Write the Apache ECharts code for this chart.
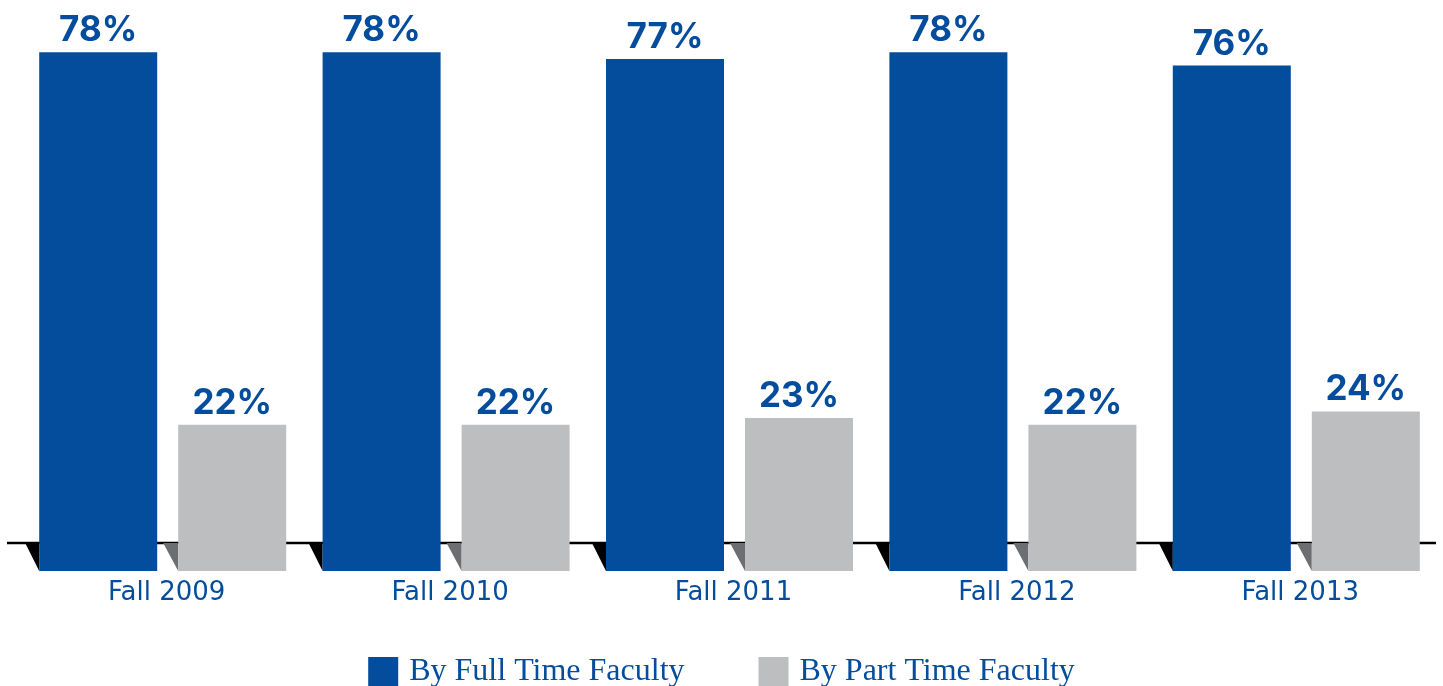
<!DOCTYPE html>
<html>
<head>
<meta charset="utf-8">
<script src="https://cdn.jsdelivr.net/npm/echarts@6/dist/echarts.min.js"></script>
<style>
html, body { margin: 0; padding: 0; background: #fff; }
#chart { width: 1443px; height: 686px; }
</style>
</head>
<body>
<div id="chart"></div>
<script>
var dom = document.getElementById("chart");
var myChart = echarts.init(dom);

var categories = ['Fall 2009', 'Fall 2010', 'Fall 2011', 'Fall 2012', 'Fall 2013'];
var fullTime = [78, 78, 77, 78, 76];
var partTime = [22, 22, 23, 22, 24];
var seriesNames = ['By Full Time Faculty', 'By Part Time Faculty'];

// the black floor line sits a little above the bars' foot
var floorValue = 4.2;

var blue = '#044c9c';
var grey = '#bdbec0';
var fullWidth = 118, partWidth = 108, gapPct = 0.178;

var option;

option = {
    animation: false,
    grid: { left: 21, right: 5, top: 39, bottom: 115 },
    legend: {
        data: seriesNames,
        left: 'center',
        top: 651,
        icon: 'rect',
        itemWidth: 30,
        itemHeight: 30,
        itemGap: 74,
        textStyle: {
            color: blue,
            fontFamily: 'Liberation Serif',
            fontSize: 32,
            padding: [0, 0, 0, 6]
        }
    },
    xAxis: {
        type: 'category',
        data: categories,
        axisLine: { show: false },
        axisTick: { show: false },
        axisLabel: {
            color: blue,
            fontFamily: 'DejaVu Sans',
            fontSize: 26,
            margin: 9,
            padding: [0, 0, 0, 8]
        }
    },
    yAxis: {
        type: 'value',
        min: 0,
        max: 80,
        show: false
    },
    series: [{
        name: seriesNames[0],
        type: 'bar',
        data: fullTime,
        barWidth: fullWidth,
        barGap: (gapPct * 100) + '%',
        itemStyle: { color: blue },
        label: {
            show: true,
            position: 'top',
            distance: 4,
            formatter: '{c}%',
            color: blue,
            fontFamily: 'Inter',
            fontWeight: 'bold',
            fontSize: 35
        }
    }, {
        name: seriesNames[1],
        type: 'bar',
        data: partTime,
        barWidth: partWidth,
        itemStyle: { color: grey },
        label: {
            show: true,
            position: 'top',
            distance: 4,
            formatter: '{c}%',
            color: blue,
            fontFamily: 'Inter',
            fontWeight: 'bold',
            fontSize: 35
        }
    }, {
        // floor line and the little shadow wedges left of each bar
        type: 'custom',
        z: 1,
        silent: true,
        data: categories.map(function (c, i) { return [i]; }),
        encode: { x: 0 },
        renderItem: function (params, api) {
            var idx = api.value(0);
            var foot = api.coord([idx, 0]);
            var floor = api.coord([idx, floorValue]);
            var total = fullWidth * (1 + gapPct) + partWidth;
            var blueLeft = foot[0] - total / 2;
            var greyLeft = blueLeft + fullWidth * (1 + gapPct);
            var kids = [{
                type: 'polygon',
                shape: { points: [[blueLeft - 14, floor[1]], [blueLeft, floor[1]], [blueLeft, foot[1]]] },
                style: { fill: '#000' }
            }, {
                type: 'polygon',
                shape: { points: [[greyLeft - 15, floor[1]], [greyLeft, floor[1]], [greyLeft, foot[1]]] },
                style: { fill: '#6d6e71' }
            }];
            if (params.dataIndex === 0) {
                var cs = params.coordSys;
                kids.unshift({
                    type: 'line',
                    shape: { x1: cs.x - 14, y1: floor[1], x2: cs.x + cs.width - 2, y2: floor[1] },
                    style: { stroke: '#000', lineWidth: 2.5 }
                });
            }
            return { type: 'group', children: kids };
        }
    }]
};

if (option && typeof option === 'object') {
    myChart.setOption(option);
}
</script>
</body>
</html>
